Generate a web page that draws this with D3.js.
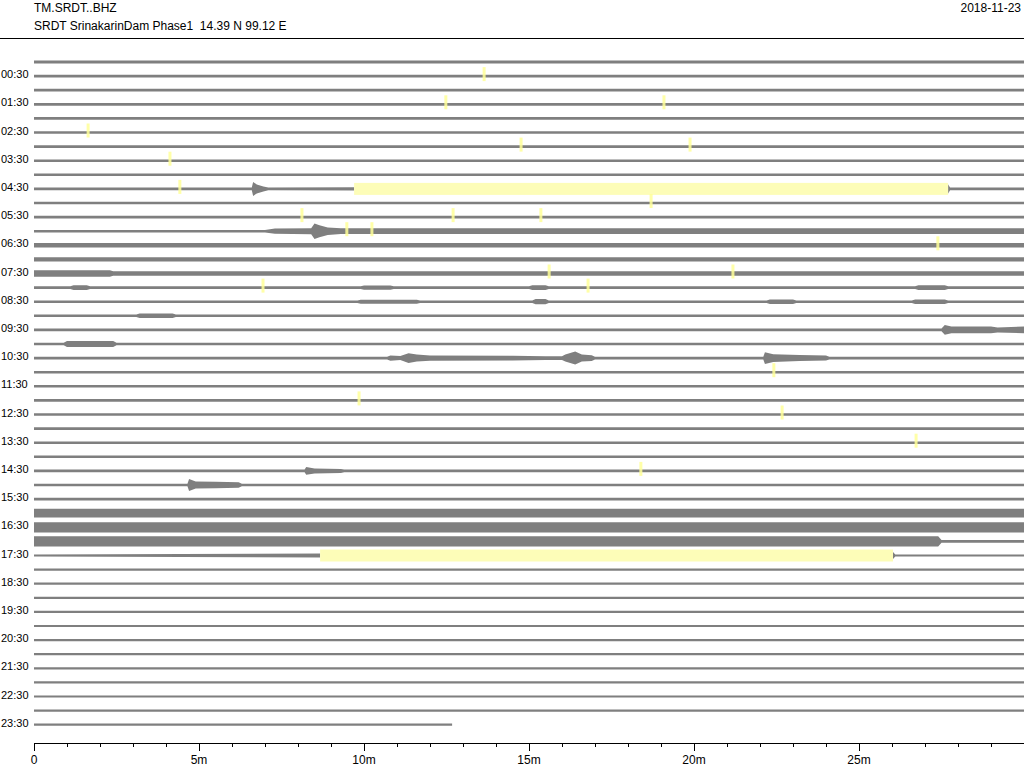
<!DOCTYPE html>
<html>
<head>
<meta charset="utf-8">
<script src="https://cdn.jsdelivr.net/npm/d3@7"></script>
<style>
html,body{margin:0;padding:0;background:#fff;}
svg{display:block;font-family:"Liberation Sans",Arial,sans-serif;}
</style>
</head>
<body>
<svg id="chart" width="1024" height="768"></svg>
<script>
// ---------- data ----------
const station = "TM.SRDT..BHZ";
const stationInfo = "SRDT SrinakarinDam Phase1  14.39 N 99.12 E";
const dateLabel = "2018-11-23";

const rowCount = 48;             // 30-minute lines, 00:00 .. 23:30
const hourLabels = ["00:30","01:30","02:30","03:30","04:30","05:30","06:30","07:30",
  "08:30","09:30","10:30","11:30","12:30","13:30","14:30","15:30",
  "16:30","17:30","18:30","19:30","20:30","21:30","22:30","23:30"];
const labelRows = [1,3,5,7,9,11,13,15,17,19,21,23,25,27,29,31,33,35,37,39,41,43,45,47];

// background noise half-amplitude per line (counts)
const rowBase = [140,140,140,140,130,130,130,130,130,130,130,130,
                 130,220,220,220,130,130,130,130,130,130,130,130,
                 130,130,130,130,130,130,130,130,440,510,510,110,
                 110,110,110,110,110,110,110,110,110,110,110,110];

// envelope bursts: [row, [[minute, counts], ...]]
const bursts = [
  [9,  [[6.6,130],[6.64,700],[6.75,450],[6.95,250],[7.1,130]]],
  [9,  [[27.7,450],[27.76,130]]],
  [12, [[7.0,130],[7.3,260],[8.4,300],[8.5,780],[8.65,600],[8.9,380],[9.3,290],[30,290]]],
  [15, [[0,320],[2.3,320],[2.4,220]]],
  [16, [[1.1,130],[1.2,230],[1.6,230],[1.7,130]]],
  [16, [[9.9,130],[10.0,210],[10.8,210],[10.9,130]]],
  [16, [[15.0,130],[15.1,230],[15.5,230],[15.6,130]]],
  [16, [[26.7,130],[26.8,230],[27.6,230],[27.7,130]]],
  [17, [[9.8,130],[9.9,200],[11.6,200],[11.7,130]]],
  [17, [[15.1,130],[15.2,260],[15.5,260],[15.6,130]]],
  [17, [[22.2,130],[22.3,220],[23.0,220],[23.1,130]]],
  [17, [[26.6,130],[26.7,230],[27.6,230],[27.7,130]]],
  [18, [[3.1,130],[3.2,230],[4.2,230],[4.3,130]]],
  [19, [[27.5,130],[27.6,480],[27.8,330],[29.0,330],[29.2,250],[30,330]]],
  [20, [[0.9,130],[1.0,300],[2.4,300],[2.5,130]]],
  [21, [[10.7,130],[10.8,260],[11.1,200],[11.35,480],[11.6,350],[12.0,260],[14.5,230],[15.5,180],[16.0,180],[16.1,350],[16.4,650],[16.6,350],[16.9,280],[17.0,130]]],
  [21, [[22.1,130],[22.15,580],[22.4,380],[23.2,300],[24.0,250],[24.1,130]]],
  [29, [[8.2,130],[8.25,380],[8.5,250],[9.3,200],[9.4,130]]],
  [30, [[4.65,130],[4.7,600],[4.9,350],[5.5,320],[6.2,280],[6.3,130]]],
  [34, [[27.4,510],[27.5,130],[30,130]]],
  [35, [[26.03,350],[26.1,110]]]
];

// data gaps (highlighted): [row, startMinute, endMinute]
const gaps = [[9, 9.70, 27.70], [35, 8.67, 26.03]];
// last line stops early: [row, endMinute]
const traceEnds = [[47, 12.67]];

// event picks: [row, minute]
const picks = [[1,13.64],[3,12.48],[3,19.09],[5,1.64],[6,14.76],[6,19.88],[7,4.12],
  [9,4.42],[10,18.70],[11,8.12],[11,12.70],[11,15.36],[12,9.48],[12,10.24],[13,27.39],
  [15,15.61],[15,21.18],[16,6.94],[16,16.79],[22,22.42],[24,9.85],[25,22.67],[27,26.73],[29,18.39]];

// x axis ticks (minutes)
const majorTicks = [0,5,10,15,20,25];
const majorTickLabels = ["0","5m","10m","15m","20m","25m"];
const minorTicks = [1,2,3,4,6,7,8,9,11,12,13,14,16,17,18,19,21,22,23,24,26,27,28,29];

// ---------- drawing ----------
const svg = d3.select("#chart");
const W = 1024;
const x = d3.scaleLinear().domain([0,30]).range([34,1024]);
const y = d3.scaleLinear().domain([0,rowCount-1]).range([62,724.7]);
const amp = d3.scaleLinear().domain([0,1000]).range([0,10]);
const traceColor = "#7f7f7f";

// header
svg.append("text").attr("x",34).attr("y",12).attr("font-size",12).attr("fill","#000").text(station);
svg.append("text").attr("x",34).attr("y",30).attr("font-size",12).attr("fill","#000").attr("xml:space","preserve").style("white-space","pre").text(stationInfo);
svg.append("text").attr("x",1021).attr("y",12).attr("font-size",12).attr("text-anchor","end").attr("fill","#000").text(dateLabel);
svg.append("line").attr("x1",0).attr("x2",W).attr("y1",38.5).attr("y2",38.5).attr("stroke","#000").attr("stroke-width",1);

// row labels
svg.append("g").selectAll("text").data(hourLabels).join("text")
  .attr("x",1).attr("y",(d,i)=>y(labelRows[i])+2)
  .attr("font-size",11).attr("fill","#000").text(d=>d);

const defs = svg.append("defs");
const traces = svg.append("g");
const area = d3.area().x(d=>x(d[0])).y0(d=>d.y + amp(d[1])).y1(d=>d.y - amp(d[1]));

for (let r = 0; r < rowCount; r++) {
  const yr = y(r);
  let pts = [[0, rowBase[r]]];
  bursts.filter(b=>b[0]===r).sort((a,b)=>a[1][0][0]-b[1][0][0]).forEach(b=>{ pts = pts.concat(b[1]); });
  if (pts[pts.length-1][0] < 30) pts.push([30, rowBase[r]]);
  pts = pts.map(p=>{ const q=[p[0],p[1]]; q.y=yr; return q; });

  let end = 30;
  traceEnds.forEach(e=>{ if(e[0]===r) end = e[1]; });
  let segs = [[0,end]];
  gaps.filter(g=>g[0]===r).forEach(g=>{
    segs = segs.flatMap(s=> (g[1]>s[0] && g[2]<s[1]) ? [[s[0],g[1]],[g[2],s[1]]] : [s]);
  });
  const cp = defs.append("clipPath").attr("id","clip"+r);
  segs.forEach(s=>cp.append("rect").attr("x",x(s[0])).attr("width",x(s[1])-x(s[0])).attr("y",yr-20).attr("height",40));

  traces.append("path").attr("d",area(pts)).attr("fill",traceColor)
    .attr("clip-path","url(#clip"+r+")");
}

// gap highlights
svg.append("g").selectAll("rect").data(gaps).join("rect")
  .attr("x",d=>x(d[1])).attr("width",d=>x(d[2])-x(d[1]))
  .attr("y",d=>y(d[0])-6).attr("height",12).attr("fill","#fdfdb8");

// picks
svg.append("g").selectAll("rect").data(picks).join("rect")
  .attr("x",d=>x(d[1])-1.5).attr("width",3)
  .attr("y",d=>y(d[0])-9).attr("height",14)
  .attr("fill","#ffff99").attr("opacity",0.85);

// x axis
const ax = svg.append("g");
ax.append("line").attr("x1",x(0)).attr("x2",1024).attr("y1",743.5).attr("y2",743.5).attr("stroke","#000");
ax.selectAll("line.maj").data(majorTicks).join("line").attr("class","maj")
  .attr("x1",d=>Math.round(x(d))+0.5).attr("x2",d=>Math.round(x(d))+0.5)
  .attr("y1",743).attr("y2",751).attr("stroke","#000");
ax.selectAll("line.min").data(minorTicks).join("line").attr("class","min")
  .attr("x1",d=>Math.round(x(d))+0.5).attr("x2",d=>Math.round(x(d))+0.5)
  .attr("y1",743).attr("y2",747).attr("stroke","#000");
ax.selectAll("text").data(majorTicks).join("text")
  .attr("x",d=>x(d)).attr("y",764).attr("text-anchor","middle").attr("font-size",12)
  .text((d,i)=>majorTickLabels[i]);
</script>
</body>
</html>
